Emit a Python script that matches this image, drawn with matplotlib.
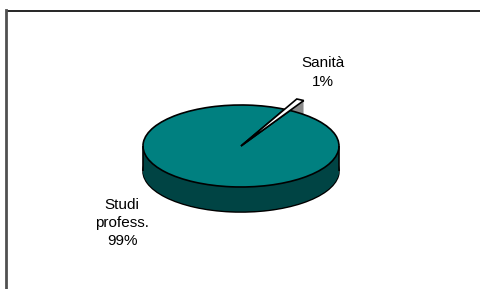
import matplotlib.pyplot as plt
from matplotlib.lines import Line2D

plt.rcParams['font.family'] = ['Liberation Sans', 'DejaVu Sans']

labels = ["Studi\nprofess.\n99%", "Sanità\n1%"]
values = [99, 1]
top_colors = ["#008080", "#ffffff"]
side_colors = ["#004444", "#8a8a8a"]

W, H = 480, 289
fig = plt.figure(figsize=(W / 100, H / 100), dpi=100)

# pie axes: unit circle -> 98 px wide, 41 px tall, centre at (241, 146) px
rx, ry = 98, 41
cx, cy = 241, 146
xl, xh = -1.3, 1.3
yl, yh = -1.9, 1.7
left = cx + xl * rx
bottom = H - (cy - yl * ry)
ax = fig.add_axes([left / W, bottom / H, (xh - xl) * rx / W, (yh - yl) * ry / H])

depth = 25 / ry
start = 90 - 26.4
nlay = 40
big = 1.28


def layer(idx, color, radius, yoff, edge):
    wedges, _ = ax.pie(values, startangle=start, radius=radius, center=(0, yoff))
    for j, w in enumerate(wedges):
        if j != idx:
            w.set_visible(False)
        else:
            w.set_facecolor(color)
            w.set_edgecolor("black" if edge else "none")
            w.set_linewidth(1.2 if edge else 0)


# side of the big slice
for i in range(nlay + 1):
    layer(0, side_colors[0], 1, -depth + depth * i / nlay, i == 0)
ax.vlines([-1, 1], -depth, 0, color="black", linewidth=1.2)

# side of the raised small slice
for i in range(nlay + 1):
    layer(1, side_colors[1], big, -0.6 * depth + 0.6 * depth * i / nlay, i == 0)

# tops
layer(0, top_colors[0], 1, 0, True)
layer(1, top_colors[1], big, 0, True)

ax.set_aspect("auto")
ax.set_xlim(xl, xh)
ax.set_ylim(yl, yh)
ax.axis("off")

fig.text(323 / W, 1 - 72.5 / H, labels[1], ha="center", va="center", fontsize=11, linespacing=1.4)
fig.text(122 / W, 1 - 223 / H, labels[0], ha="center", va="center", fontsize=11, linespacing=1.4)

# chart area border (top and left edges only visible)
fig.add_artist(Line2D([6.5 / W, 1], [1 - 10.5 / H] * 2, color="black", linewidth=1.2, transform=fig.transFigure))
fig.add_artist(Line2D([6 / W] * 2, [0, 1 - 10 / H], color="#505050", linewidth=2, transform=fig.transFigure))

fig.savefig("out.png", dpi=100)
